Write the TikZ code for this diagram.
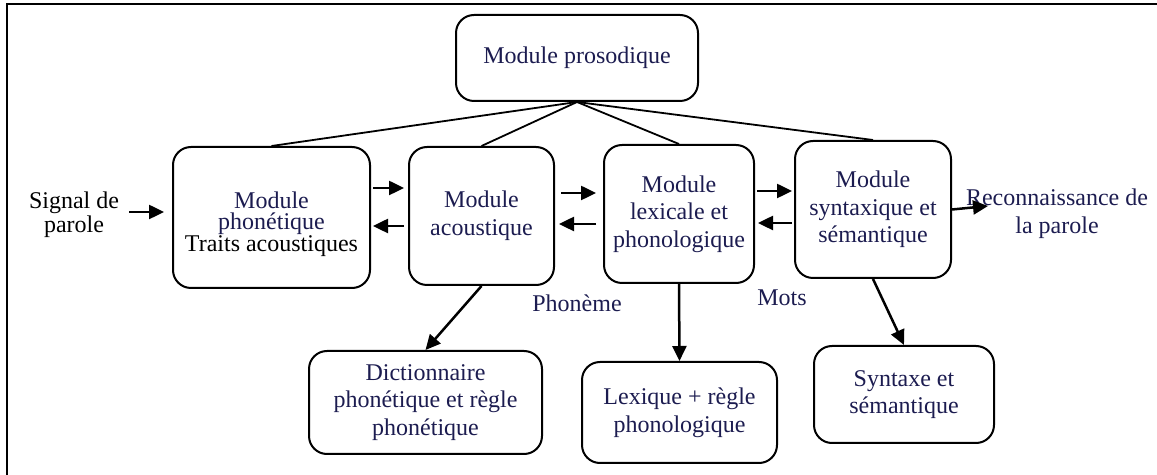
\documentclass[tikz,border=0pt]{standalone}
\usepackage{fontspec}
\setmainfont{Liberation Serif}
\usetikzlibrary{arrows.meta,calc}
\definecolor{ink}{RGB}{28,28,80}
\begin{document}
\begin{tikzpicture}[x=0.5pt,y=-0.5pt,
  every node/.style={font=\rmfamily\fontsize{12pt}{13.8pt}\selectfont, align=center, text=ink},
  module/.style={draw=black, line width=1pt, rounded corners=9pt, inner sep=0pt},
  tight/.style={font=\rmfamily\fontsize{12pt}{10.75pt}\selectfont},
  link/.style={line width=0.9pt},
  arr/.style={line width=1.25pt, -{Triangle[length=7.5pt,width=7pt]}}
]
\useasboundingbox (0,0) rectangle (1157,475);
% outer frame (only its top and left sides fall inside the page)
\draw[line width=1.25pt] (7,477) -- (7,4) -- (1159,4);

% modules
\node[module, minimum width=121pt, minimum height=43pt] (pros) at (577,58) {Module prosodique};
\node[module, minimum width=98.5pt, minimum height=70.5pt] (phon) at (271.5,217.5) {};
\node[tight, inner sep=0pt] (phontext) at (271.5,224)
  {Module\\phonétique\\\textcolor{black}{Traits acoustiques}};
\node[module, minimum width=72.5pt, minimum height=69pt] (acou) at (481.5,216) {Module\\acoustique};
\node[module, minimum width=75pt, minimum height=69pt] (lex) at (679,214) {Module\\lexicale et\\phonologique};
\node[module, minimum width=78pt, minimum height=68.5pt] (syn) at (873,209.5) {Module\\syntaxique et\\sémantique};

% knowledge sources
\node[module, minimum width=116.5pt, minimum height=51.5pt] (dict) at (425.5,402.5) {Dictionnaire\\phonétique et règle\\phonétique};
\node[module, minimum width=97.5pt, minimum height=50.5pt] (lexq) at (679.5,412.5) {Lexique + règle\\phonologique};
\node[module, minimum width=90pt, minimum height=48.5pt] (syntx) at (904,394.5) {Syntaxe et\\sémantique};

% free labels
\node[tight, text=black, inner sep=3pt] (sig) at (74,215) {Signal de\\parole};
\node (reco) at (1057,214) {Reconnaissance de\\la parole};
\node (phoneme) at (577,303) {Phonème};
\node (mots) at (782,298) {Mots};
\coordinate (outtip) at (988,206);

% prosodic links
\foreach \m in {phon,acou,lex,syn}
  \draw[link] (pros.south) -- (\m.north);

% input
\draw[arr, shorten <=2pt, shorten >=4pt] (sig.east |- 0,212) -- (phon.west |- 0,212);

% forward / backward arrows between modules
\draw[arr, shorten <=1pt, shorten >=2pt] (phon.east |- 0,188) -- (acou.west |- 0,188);
\draw[arr, shorten <=2pt, shorten >=1pt] (acou.west |- 0,226) -- (phon.east |- 0,226);
\draw[arr, shorten <=3pt, shorten >=3.5pt] (acou.east |- 0,193) -- (lex.west |- 0,193);
\draw[arr, shorten <=3.5pt, shorten >=2pt] (lex.west |- 0,224) -- (acou.east |- 0,224);
\draw[arr, shorten <=1pt, shorten >=1pt] (lex.east |- 0,191) -- (syn.west |- 0,191);
\draw[arr, shorten <=1pt, shorten >=1.5pt] (syn.west |- 0,223) -- (lex.east |- 0,223);

% output
\draw[arr] (syn.east) -- (outtip);

% down to the knowledge sources
\draw[arr] (acou.south) -- (dict.north);
\draw[arr] (lex.south) -- (lexq.north);
\draw[arr] (syn.south) -- (syntx.north);
\end{tikzpicture}
\end{document}
